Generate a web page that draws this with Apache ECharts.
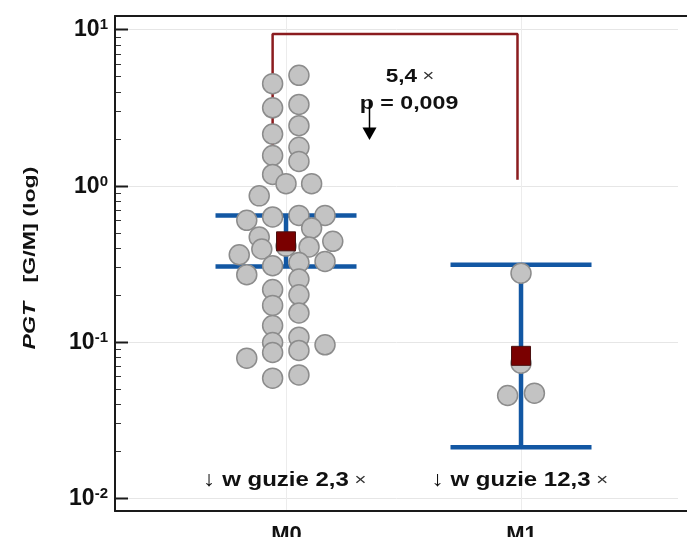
<!DOCTYPE html>
<html><head><meta charset="utf-8">
<script src="https://cdn.jsdelivr.net/npm/echarts@6/dist/echarts.min.js"></script>
<style>html,body{margin:0;padding:0;background:#fff}#c{width:687px;height:537px}</style>
</head><body><div id="c"></div>
<script>
// ---------- data ----------
const categories = ['M0', 'M1'];
// x = category position (1 = M0, 2 = M1) incl. strip-plot jitter
const m0X = [0.943,0.943,0.943,0.943,0.943,1.055,1.055,1.055,1.055,1.055,1.0,1.109,0.886,0.833,0.943,1.055,1.166,1.109,0.886,0.897,0.801,1.0,1.098,1.199,0.833,0.943,1.055,1.166,1.055,0.943,1.055,0.943,1.055,0.943,1.055,0.943,0.943,1.055,1.166,0.833,0.943,1.055];
const m0Values = [4.5,3.15,2.14,1.56,1.18,5.09,3.31,2.42,1.76,1.43,1.03,1.03,0.86,0.60,0.63,0.645,0.645,0.535,0.469,0.393,0.361,0.41,0.405,0.44,0.269,0.307,0.322,0.327,0.252,0.216,0.2,0.171,0.153,0.127,0.107,0.099,0.0854,0.088,0.0957,0.0785,0.0585,0.0614];
const m1X = [2.0, 2.0, 1.943, 2.057];
const m1Values = [0.275, 0.073, 0.0453, 0.0469];
const means = [0.44, 0.0813];
const ciLower = [0.304, 0.0211];
const ciUpper = [0.645, 0.312];
const yMajorTicks = [0.01, 0.1, 1, 10];
const yTickBase = ['10', '10', '10', '10'];
const yTickExponents = ['-2', '-1', '0', '1'];
const yMinorTicks = [0.02,0.03,0.04,0.05,0.06,0.07,0.08,0.09,0.2,0.3,0.4,0.5,0.6,0.7,0.8,0.9,2,3,4,5,6,7,8,9];
const bracketX = [0.943, 0.943, 1.985, 1.985];
const bracketY = [1.70, 9.36, 9.36, 1.09];
const footnotes = ['w guzie 2,3', 'w guzie 12,3'];
const ratioText = '5,4';
const pText = 'p = 0,009';
const axisTitle = ['PGT', '[G/M] (log)'];

// ---------- layout / style ----------
const FONT = '"Liberation Sans", Arial, sans-serif';
const X_MIN = 0.2723, X_MAX = 2.7063;
const Y_MIN = 0.00825, Y_MAX = 12.2;
const BLUE = '#1257a3', RED = '#7a0000', BRACKET = '#8b1c1f', INK = '#1a1a1a';

const chart = echarts.init(document.getElementById('c'), null, {renderer: 'canvas'});

function majorTick(params, api) {
  const cs = params.coordSys;
  const i = api.value(2);
  const y = Math.round(api.coord([X_MIN, api.value(1)])[1]) + 0.5;
  return {type: 'group', children: [
    {type: 'line', shape: {x1: cs.x, y1: y, x2: cs.x + cs.width - 9, y2: y}, style: {stroke: '#e6e6e6', lineWidth: 1}, z2: 0},
    {type: 'line', shape: {x1: cs.x, y1: y, x2: cs.x + 13, y2: y}, style: {stroke: INK, lineWidth: 2}, z2: 5},
    {type: 'text', x: cs.x - 7, y: y, z2: 5, style: {
      text: '{b|' + yTickBase[i] + '}{s|' + yTickExponents[i] + '}',
      align: 'right', verticalAlign: 'middle',
      rich: {
        b: {fontFamily: FONT, fontWeight: 'bold', fontSize: 23, lineHeight: 24, fill: '#111', verticalAlign: 'bottom'},
        s: {fontFamily: FONT, fontWeight: 'bold', fontSize: 15, lineHeight: 14, fill: '#111', verticalAlign: 'top'}
      }}}
  ]};
}
function minorTick(params, api) {
  const cs = params.coordSys;
  const y = Math.round(api.coord([X_MIN, api.value(1)])[1]) + 0.5;
  return {type: 'line', shape: {x1: cs.x, y1: y, x2: cs.x + 6, y2: y}, style: {stroke: '#333', lineWidth: 1}};
}
function catDecor(params, api) {
  const cs = params.coordSys;
  const i = api.value(2);
  const x = Math.round(api.coord([api.value(0), Y_MIN])[0]) + 0.5;
  return {type: 'group', children: [
    {type: 'line', shape: {x1: x, y1: cs.y, x2: x, y2: cs.y + cs.height}, style: {stroke: '#ececec', lineWidth: 1}},
    {type: 'text', x: x, y: cs.y + cs.height + 13, style: {text: categories[i], align: 'center', verticalAlign: 'top',
      fontFamily: FONT, fontWeight: 'bold', fontSize: 22, fill: '#111'}},
    {type: 'text', x: x - 2, y: cs.y + cs.height - 31, scaleX: 1.2, z2: 6, style: {
      text: '{a|↓ }{b|' + footnotes[i] + '}{c| ×}', align: 'center', verticalAlign: 'middle',
      rich: {
        a: {fontFamily: FONT, fontSize: 21, fill: '#111'},
        b: {fontFamily: FONT, fontWeight: 'bold', fontSize: 20, fill: '#111'},
        c: {fontFamily: FONT, fontSize: 17, fill: '#333'}
      }}}
  ]};
}
function errorBar(params, api) {
  const x = api.value(0);
  const lo = api.coord([x, api.value(2)]);
  const hi = api.coord([x, api.value(3)]);
  const l = api.coord([x - 0.3, api.value(2)])[0];
  const r = api.coord([x + 0.3, api.value(2)])[0];
  const st = {stroke: BLUE, lineWidth: 4.5};
  return {type: 'group', children: [
    {type: 'line', shape: {x1: lo[0], y1: lo[1], x2: hi[0], y2: hi[1]}, style: st},
    {type: 'line', shape: {x1: l, y1: lo[1], x2: r, y2: lo[1]}, style: st},
    {type: 'line', shape: {x1: l, y1: hi[1], x2: r, y2: hi[1]}, style: st}
  ]};
}

const frameAxis = {type: 'value', min: X_MIN, max: X_MAX, axisTick: {show: false}, axisLabel: {show: false}, splitLine: {show: false},
  axisLine: {show: true, onZero: false, lineStyle: {color: INK, width: 2}}};

const option = {
  animation: false,
  grid: {left: 115, top: 16, width: 572, height: 495, show: false},
  xAxis: [Object.assign({position: 'bottom'}, frameAxis), Object.assign({position: 'top'}, frameAxis)],
  yAxis: {type: 'log', logBase: 10, min: Y_MIN, max: Y_MAX,
    axisLine: {show: true, onZero: false, lineStyle: {color: INK, width: 2}},
    axisTick: {show: false}, axisLabel: {show: false}, splitLine: {show: false}, minorTick: {show: false}},
  graphic: [
    {type: 'text', x: 31, y: 258, rotation: Math.PI / 2, scaleX: 1.45, style: {
      text: '{i|' + axisTitle[0] + '}{n|   ' + axisTitle[1] + '}', align: 'center', verticalAlign: 'middle',
      rich: {
        i: {fontFamily: FONT, fontWeight: 'bold', fontStyle: 'italic', fontSize: 16, fill: '#111'},
        n: {fontFamily: FONT, fontWeight: 'bold', fontSize: 16, fill: '#111'}
      }}},
    {type: 'text', x: 410, y: 77, z: 10, scaleX: 1.25, style: {
      text: '{b|' + ratioText + '}{c| ×}', align: 'center', verticalAlign: 'middle',
      rich: {b: {fontFamily: FONT, fontWeight: 'bold', fontSize: 18, fill: '#111'}, c: {fontFamily: FONT, fontSize: 16, fill: '#333'}}}},
    {type: 'text', x: 409, y: 104, z: 10, scaleX: 1.22, style: {text: pText, align: 'center', verticalAlign: 'middle',
      fontFamily: FONT, fontWeight: 'bold', fontSize: 19, fill: '#111'}},
    {type: 'line', z: 10, shape: {x1: 369.5, y1: 101, x2: 369.5, y2: 129}, style: {stroke: '#000', lineWidth: 1.5}},
    {type: 'polygon', z: 10, shape: {points: [[362.5, 127.5], [376.5, 127.5], [369.5, 140]]}, style: {fill: '#000'}}
  ],
  series: [
    {type: 'custom', name: 'major', z: 0, silent: true, clip: false, renderItem: majorTick,
      data: yMajorTicks.map((v, i) => [1, v, i]), encode: {x: 0, y: 1}},
    {type: 'custom', name: 'minor', z: 0, silent: true, clip: false, renderItem: minorTick,
      data: yMinorTicks.map((v) => [1, v]), encode: {x: 0, y: 1}},
    {type: 'custom', name: 'cats', z: 0, silent: true, clip: false, renderItem: catDecor,
      data: categories.map((c, i) => [i + 1, Y_MIN, i]), encode: {x: 0, y: 1}},
    {type: 'line', name: 'bracket', z: 1, silent: true, symbol: 'none',
      data: bracketX.map((x, i) => [x, bracketY[i]]), lineStyle: {color: BRACKET, width: 2.5}},
    {type: 'custom', name: 'ci', z: 2, silent: true, renderItem: errorBar,
      data: categories.map((c, i) => [i + 1, means[i], ciLower[i], ciUpper[i]]), encode: {x: 0, y: 1}},
    {type: 'scatter', name: 'points', z: 3, silent: true, symbolSize: 20,
      itemStyle: {color: '#c3c3c3', borderColor: '#8c8c8c', borderWidth: 1.5, opacity: 1},
      data: m0X.map((x, i) => [x, m0Values[i]]).concat(m1X.map((x, i) => [x, m1Values[i]]))},
    {type: 'scatter', name: 'mean', z: 4, silent: true, symbol: 'rect', symbolSize: 19,
      itemStyle: {color: RED, borderColor: '#4a1010', borderWidth: 1, opacity: 1},
      data: categories.map((c, i) => [i + 1, means[i]])}
  ]
};
chart.setOption(option);
</script></body></html>
